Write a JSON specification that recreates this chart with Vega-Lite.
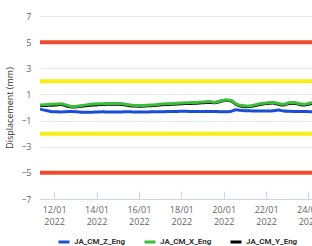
{
  "$schema": "https://vega.github.io/schema/vega-lite/v6.json",
  "width": 272,
  "height": 183,
  "autosize": {"type": "none"},
  "padding": {"left": 40, "top": 16, "right": 0, "bottom": 47},
  "background": "white",
  "config": {
    "view": {"stroke": null},
    "font": "Open Sans",
    "axis": {"labelFont": "Open Sans", "titleFont": "Open Sans", "labelOverlap": false},
    "axisY": {"labelOverlap": false}
  },
  "datasets": {
    "series": [
      {"t": "2022-01-11T08:00", "JA_CM_Z_Eng": -0.12, "JA_CM_X_Eng": 0.2, "JA_CM_Y_Eng": 0.15},
      {"t": "2022-01-11T14:00", "JA_CM_Z_Eng": -0.22, "JA_CM_X_Eng": 0.22, "JA_CM_Y_Eng": 0.16},
      {"t": "2022-01-11T20:00", "JA_CM_Z_Eng": -0.3, "JA_CM_X_Eng": 0.24, "JA_CM_Y_Eng": 0.18},
      {"t": "2022-01-12T02:00", "JA_CM_Z_Eng": -0.33, "JA_CM_X_Eng": 0.26, "JA_CM_Y_Eng": 0.2},
      {"t": "2022-01-12T08:00", "JA_CM_Z_Eng": -0.34, "JA_CM_X_Eng": 0.28, "JA_CM_Y_Eng": 0.22},
      {"t": "2022-01-12T14:00", "JA_CM_Z_Eng": -0.32, "JA_CM_X_Eng": 0.18, "JA_CM_Y_Eng": 0.12},
      {"t": "2022-01-12T20:00", "JA_CM_Z_Eng": -0.3, "JA_CM_X_Eng": 0.08, "JA_CM_Y_Eng": 0.03},
      {"t": "2022-01-13T02:00", "JA_CM_Z_Eng": -0.33, "JA_CM_X_Eng": 0.1, "JA_CM_Y_Eng": 0.05},
      {"t": "2022-01-13T08:00", "JA_CM_Z_Eng": -0.36, "JA_CM_X_Eng": 0.16, "JA_CM_Y_Eng": 0.1},
      {"t": "2022-01-13T14:00", "JA_CM_Z_Eng": -0.37, "JA_CM_X_Eng": 0.22, "JA_CM_Y_Eng": 0.16},
      {"t": "2022-01-13T20:00", "JA_CM_Z_Eng": -0.36, "JA_CM_X_Eng": 0.26, "JA_CM_Y_Eng": 0.2},
      {"t": "2022-01-14T02:00", "JA_CM_Z_Eng": -0.34, "JA_CM_X_Eng": 0.28, "JA_CM_Y_Eng": 0.22},
      {"t": "2022-01-14T08:00", "JA_CM_Z_Eng": -0.33, "JA_CM_X_Eng": 0.29, "JA_CM_Y_Eng": 0.23},
      {"t": "2022-01-14T14:00", "JA_CM_Z_Eng": -0.35, "JA_CM_X_Eng": 0.31, "JA_CM_Y_Eng": 0.25},
      {"t": "2022-01-14T20:00", "JA_CM_Z_Eng": -0.35, "JA_CM_X_Eng": 0.3, "JA_CM_Y_Eng": 0.24},
      {"t": "2022-01-15T02:00", "JA_CM_Z_Eng": -0.34, "JA_CM_X_Eng": 0.3, "JA_CM_Y_Eng": 0.24},
      {"t": "2022-01-15T08:00", "JA_CM_Z_Eng": -0.33, "JA_CM_X_Eng": 0.26, "JA_CM_Y_Eng": 0.2},
      {"t": "2022-01-15T14:00", "JA_CM_Z_Eng": -0.33, "JA_CM_X_Eng": 0.19, "JA_CM_Y_Eng": 0.14},
      {"t": "2022-01-15T20:00", "JA_CM_Z_Eng": -0.35, "JA_CM_X_Eng": 0.16, "JA_CM_Y_Eng": 0.11},
      {"t": "2022-01-16T02:00", "JA_CM_Z_Eng": -0.35, "JA_CM_X_Eng": 0.15, "JA_CM_Y_Eng": 0.1},
      {"t": "2022-01-16T08:00", "JA_CM_Z_Eng": -0.34, "JA_CM_X_Eng": 0.17, "JA_CM_Y_Eng": 0.12},
      {"t": "2022-01-16T14:00", "JA_CM_Z_Eng": -0.33, "JA_CM_X_Eng": 0.19, "JA_CM_Y_Eng": 0.14},
      {"t": "2022-01-16T20:00", "JA_CM_Z_Eng": -0.33, "JA_CM_X_Eng": 0.22, "JA_CM_Y_Eng": 0.17},
      {"t": "2022-01-17T02:00", "JA_CM_Z_Eng": -0.32, "JA_CM_X_Eng": 0.27, "JA_CM_Y_Eng": 0.21},
      {"t": "2022-01-17T08:00", "JA_CM_Z_Eng": -0.31, "JA_CM_X_Eng": 0.29, "JA_CM_Y_Eng": 0.23},
      {"t": "2022-01-17T14:00", "JA_CM_Z_Eng": -0.31, "JA_CM_X_Eng": 0.31, "JA_CM_Y_Eng": 0.25},
      {"t": "2022-01-17T20:00", "JA_CM_Z_Eng": -0.3, "JA_CM_X_Eng": 0.33, "JA_CM_Y_Eng": 0.27},
      {"t": "2022-01-18T02:00", "JA_CM_Z_Eng": -0.28, "JA_CM_X_Eng": 0.35, "JA_CM_Y_Eng": 0.29},
      {"t": "2022-01-18T08:00", "JA_CM_Z_Eng": -0.3, "JA_CM_X_Eng": 0.37, "JA_CM_Y_Eng": 0.31},
      {"t": "2022-01-18T14:00", "JA_CM_Z_Eng": -0.31, "JA_CM_X_Eng": 0.38, "JA_CM_Y_Eng": 0.32},
      {"t": "2022-01-18T20:00", "JA_CM_Z_Eng": -0.3, "JA_CM_X_Eng": 0.4, "JA_CM_Y_Eng": 0.34},
      {"t": "2022-01-19T02:00", "JA_CM_Z_Eng": -0.31, "JA_CM_X_Eng": 0.43, "JA_CM_Y_Eng": 0.37},
      {"t": "2022-01-19T08:00", "JA_CM_Z_Eng": -0.3, "JA_CM_X_Eng": 0.45, "JA_CM_Y_Eng": 0.39},
      {"t": "2022-01-19T14:00", "JA_CM_Z_Eng": -0.31, "JA_CM_X_Eng": 0.4, "JA_CM_Y_Eng": 0.36},
      {"t": "2022-01-19T20:00", "JA_CM_Z_Eng": -0.32, "JA_CM_X_Eng": 0.5, "JA_CM_Y_Eng": 0.46},
      {"t": "2022-01-20T02:00", "JA_CM_Z_Eng": -0.33, "JA_CM_X_Eng": 0.58, "JA_CM_Y_Eng": 0.55},
      {"t": "2022-01-20T08:00", "JA_CM_Z_Eng": -0.3, "JA_CM_X_Eng": 0.56, "JA_CM_Y_Eng": 0.52},
      {"t": "2022-01-20T14:00", "JA_CM_Z_Eng": -0.18, "JA_CM_X_Eng": 0.28, "JA_CM_Y_Eng": 0.23},
      {"t": "2022-01-20T20:00", "JA_CM_Z_Eng": -0.22, "JA_CM_X_Eng": 0.15, "JA_CM_Y_Eng": 0.1},
      {"t": "2022-01-21T02:00", "JA_CM_Z_Eng": -0.25, "JA_CM_X_Eng": 0.11, "JA_CM_Y_Eng": 0.06},
      {"t": "2022-01-21T08:00", "JA_CM_Z_Eng": -0.26, "JA_CM_X_Eng": 0.14, "JA_CM_Y_Eng": 0.09},
      {"t": "2022-01-21T14:00", "JA_CM_Z_Eng": -0.27, "JA_CM_X_Eng": 0.24, "JA_CM_Y_Eng": 0.19},
      {"t": "2022-01-21T20:00", "JA_CM_Z_Eng": -0.27, "JA_CM_X_Eng": 0.32, "JA_CM_Y_Eng": 0.27},
      {"t": "2022-01-22T02:00", "JA_CM_Z_Eng": -0.26, "JA_CM_X_Eng": 0.36, "JA_CM_Y_Eng": 0.31},
      {"t": "2022-01-22T08:00", "JA_CM_Z_Eng": -0.24, "JA_CM_X_Eng": 0.39, "JA_CM_Y_Eng": 0.34},
      {"t": "2022-01-22T14:00", "JA_CM_Z_Eng": -0.2, "JA_CM_X_Eng": 0.3, "JA_CM_Y_Eng": 0.25},
      {"t": "2022-01-22T20:00", "JA_CM_Z_Eng": -0.27, "JA_CM_X_Eng": 0.24, "JA_CM_Y_Eng": 0.19},
      {"t": "2022-01-23T02:00", "JA_CM_Z_Eng": -0.29, "JA_CM_X_Eng": 0.36, "JA_CM_Y_Eng": 0.31},
      {"t": "2022-01-23T08:00", "JA_CM_Z_Eng": -0.3, "JA_CM_X_Eng": 0.38, "JA_CM_Y_Eng": 0.33},
      {"t": "2022-01-23T14:00", "JA_CM_Z_Eng": -0.3, "JA_CM_X_Eng": 0.28, "JA_CM_Y_Eng": 0.23},
      {"t": "2022-01-23T20:00", "JA_CM_Z_Eng": -0.31, "JA_CM_X_Eng": 0.24, "JA_CM_Y_Eng": 0.19},
      {"t": "2022-01-24T02:00", "JA_CM_Z_Eng": -0.32, "JA_CM_X_Eng": 0.34, "JA_CM_Y_Eng": 0.29},
      {"t": "2022-01-24T08:00", "JA_CM_Z_Eng": -0.32, "JA_CM_X_Eng": 0.38, "JA_CM_Y_Eng": 0.33},
      {"t": "2022-01-24T14:00", "JA_CM_Z_Eng": -0.31, "JA_CM_X_Eng": 0.36, "JA_CM_Y_Eng": 0.31},
      {"t": "2022-01-24T20:00", "JA_CM_Z_Eng": -0.31, "JA_CM_X_Eng": 0.4, "JA_CM_Y_Eng": 0.35}
    ],
    "limits": [
      {"level": 5, "kind": "alarm"},
      {"level": -5, "kind": "alarm"},
      {"level": 2, "kind": "alert"},
      {"level": -2, "kind": "alert"}
    ]
  },
  "encoding": {
    "y": {
      "type": "quantitative",
      "scale": {"domain": [-7, 7], "nice": false, "zero": false},
      "axis": {
        "title": "Displacement (mm)",
        "titleFontSize": 9,
        "titleFontWeight": "normal",
        "titleColor": "#333333",
        "titlePadding": 6,
        "values": [-7, -5, -3, -1, 1, 3, 5, 7],
        "labelOverlap": false,
        "labelColor": "#666666",
        "labelFontSize": 9,
        "labelPadding": 9,
        "domain": false,
        "ticks": false,
        "gridColor": "#e6e6e6",
        "gridWidth": 1
      }
    }
  },
  "layer": [
    {
      "data": {"name": "limits"},
      "transform": [{"filter": "datum.kind === 'alarm'"}],
      "mark": {"type": "rule", "color": "#f04a2f", "strokeWidth": 4},
      "encoding": {
        "y": {"field": "level", "type": "quantitative", "title": "Displacement (mm)"}
      }
    },
    {
      "data": {"name": "limits"},
      "transform": [{"filter": "datum.kind === 'alert'"}],
      "mark": {"type": "rule", "color": "#f7ee17", "strokeWidth": 4},
      "encoding": {
        "y": {"field": "level", "type": "quantitative", "title": "Displacement (mm)"}
      }
    },
    {
      "data": {"name": "series"},
      "transform": [
        {"fold": ["JA_CM_Y_Eng", "JA_CM_Z_Eng", "JA_CM_X_Eng"], "as": ["sensor", "disp"]}
      ],
      "mark": {"type": "line", "clip": true, "interpolate": "monotone", "strokeJoin": "round", "strokeCap": "round"},
      "encoding": {
        "x": {
          "field": "t",
          "type": "temporal",
          "scale": {"domain": ["2022-01-11T08:00", "2022-01-24T04:00"]},
          "axis": {
            "title": null,
            "values": ["2022-01-12T00:00", "2022-01-14T00:00", "2022-01-16T00:00", "2022-01-18T00:00", "2022-01-20T00:00", "2022-01-22T00:00", "2022-01-24T00:00"],
            "labelExpr": "[timeFormat(datum.value, '%d/%m'), timeFormat(datum.value, '%Y')]",
            "labelFlush": false,
            "labelOverlap": false,
            "labelColor": "#666666",
            "labelFontSize": 9,
            "labelLineHeight": 12,
            "labelPadding": 14,
            "labelBaseline": "top",
            "grid": false,
            "domainColor": "#ccd6eb",
            "tickColor": "#ccd6eb",
            "tickSize": -8
          }
        },
        "y": {"field": "disp", "type": "quantitative", "title": "Displacement (mm)"},
        "color": {
          "field": "sensor",
          "type": "nominal",
          "scale": {
            "domain": ["JA_CM_Z_Eng", "JA_CM_X_Eng", "JA_CM_Y_Eng"],
            "range": ["#1b4ed6", "#3dbd3d", "#000000"]
          },
          "legend": {
            "title": null,
            "orient": "none",
            "direction": "horizontal",
            "legendX": 17,
            "legendY": 219,
            "symbolType": "stroke",
            "symbolStrokeWidth": 4,
            "symbolSize": 121,
            "labelFont": "Roboto",
            "labelFontSize": 8,
            "labelFontWeight": "bold",
            "labelColor": "#333333",
            "labelOffset": 3,
            "columnPadding": 12
          }
        },
        "strokeWidth": {
          "field": "sensor",
          "type": "nominal",
          "scale": {
            "domain": ["JA_CM_Z_Eng", "JA_CM_X_Eng", "JA_CM_Y_Eng"],
            "range": [3, 3, 2]
          },
          "legend": null
        }
      }
    }
  ]
}
